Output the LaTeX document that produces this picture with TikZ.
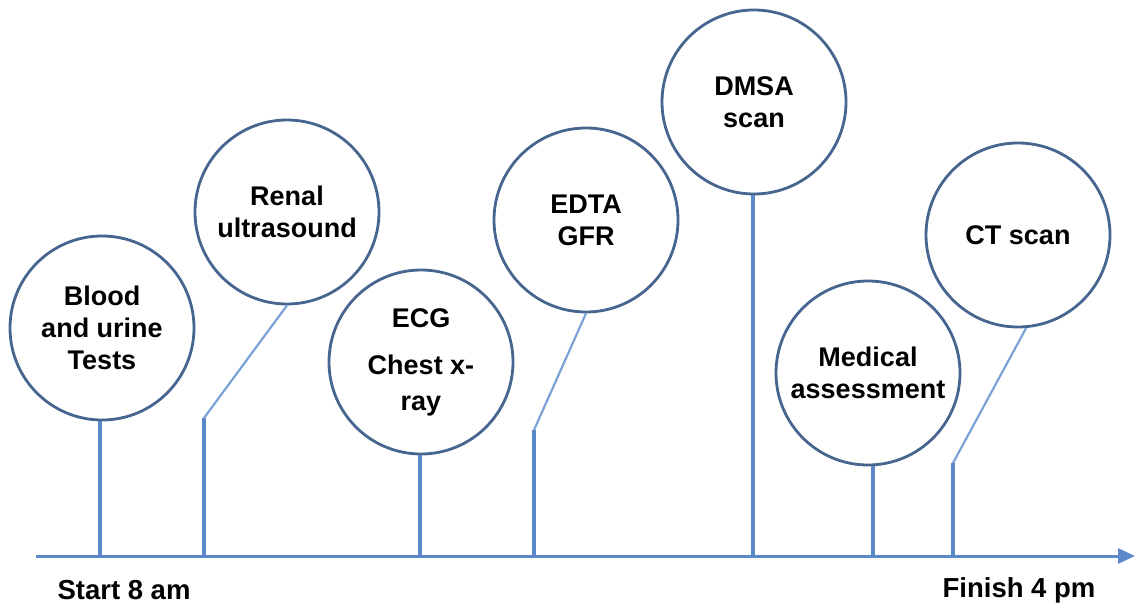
\documentclass[tikz,border=0pt]{standalone}
\usepackage{fontspec}
\setmainfont{Liberation Sans}
\usetikzlibrary{arrows.meta}
\definecolor{ringc}{HTML}{46658F}
\definecolor{linec}{HTML}{5B88C8}
\definecolor{slantc}{HTML}{7BA2D6}
\tikzset{
  stage/.style={circle, draw=ringc, line width=2.8pt, fill=white, minimum size=184pt, inner sep=0pt,
    align=center, font=\fontsize{27}{32}\selectfont\bfseries},
  stem/.style={draw=linec, line width=3.4pt},
  slant/.style={draw=slantc, line width=2.2pt},
  axislbl/.style={font=\fontsize{27.5}{32}\selectfont\bfseries, inner sep=0pt}
}
\begin{document}
\begin{tikzpicture}[x=1pt,y=-1pt]
\useasboundingbox (0,0) rectangle (1135,604);
% axis
\coordinate (a0) at (36,556);
\coordinate (a1) at (1135,556);
\draw[draw=linec, line width=3pt, -{Triangle[length=17pt,width=15pt]}] (a0) -- (a1);
% stages
\node[stage] (blood) at (102,328) {Blood\\and urine\\Tests};
\node[stage] (renal) at (287,212) {Renal\\ultrasound};
\node[stage] (ecg) at (421,362) {ECG\\[15pt]Chest x-\\[4pt]ray};
\node[stage] (edta) at (586,220) {EDTA\\GFR};
\node[stage] (dmsa) at (754,102) {DMSA\\scan};
\node[stage] (med) at (868,373) {Medical\\assessment};
\node[stage] (ct) at (1018,235) {CT scan};
% axis ticks
\coordinate (t1) at (100,556);
\coordinate (t2) at (204,556);
\coordinate (t3) at (420,556);
\coordinate (t4) at (534,556);
\coordinate (t5) at (753,556);
\coordinate (t6) at (873,556);
\coordinate (t7) at (953,556);
\coordinate (k2) at (204,418);
\coordinate (k4) at (534,430);
\coordinate (k7) at (953,463);
% connectors
\draw[stem] (t1 |- blood.south) -- (t1);
\draw[slant] (renal.south) -- (k2);
\draw[stem] (k2) -- (t2);
\draw[stem] (t3 |- ecg.south) -- (t3);
\draw[slant] (edta.south) -- (k4);
\draw[stem] (k4) -- (t4);
\draw[stem] (t5 |- dmsa.south) -- (t5);
\draw[stem] (t6 |- med.south) -- (t6);
\draw[slant] (ct.-85) -- (k7);
\draw[stem] (k7) -- (t7);
% labels
\node[axislbl] (start) at (124,590) {Start 8 am};
\node[axislbl] (finish) at (1019,590) {Finish 4 pm};
\end{tikzpicture}
\end{document}
